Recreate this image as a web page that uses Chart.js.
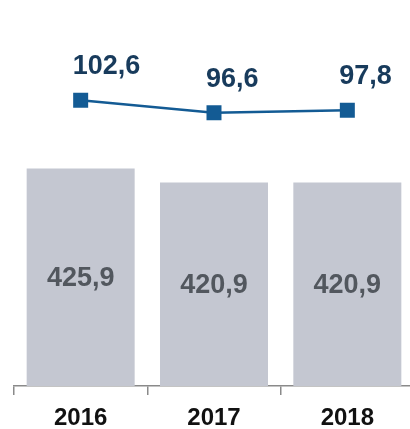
<!DOCTYPE html>
<html>
<meta charset="UTF-8">
<title>Chart</title>
<style type="text/css">
	html,
	body {
		margin: 0px;
		background: #ffffff;
		overflow: hidden;
	}

	.container {
		width: 420px;
		height: 429px;
		overflow: hidden;
	}
</style>
<script src="https://cdn.jsdelivr.net/npm/chart.js"></script>

<body>

	<div class="container"><canvas id="myCanvas" width="420" height="441"></canvas></div>

	<script>

		var years = ['2016', '2017', '2018'];
		var barValues = [425.9, 420.9, 420.9];
		var lineValues = [102.6, 96.6, 97.8];

		function fmt(v) {
			return v.toFixed(1).replace('.', ',');
		}

		// draws the numbers over the marks
		var valueLabels = {
			id: 'valueLabels',
			afterDatasetsDraw: function (chart) {
				var ctx = chart.ctx;
				var bottom = chart.chartArea.bottom;
				ctx.save();
				var barMeta = chart.getDatasetMeta(0);
				ctx.font = 'bold 27px "Liberation Sans"';
				ctx.fillStyle = '#52575e';
				ctx.textAlign = 'center';
				ctx.textBaseline = 'middle';
				barMeta.data.forEach(function (el, i) {
					ctx.fillText(fmt(barValues[i]), el.x, (el.y + bottom) / 2 + 1.5);
				});
				var lineMeta = chart.getDatasetMeta(1);
				ctx.font = 'bold 27px "Liberation Sans"';
				ctx.fillStyle = '#183b5c';
				ctx.textAlign = 'left';
				ctx.textBaseline = 'alphabetic';
				lineMeta.data.forEach(function (el, i) {
					ctx.fillText(fmt(lineValues[i]), el.x - 8, el.y - 26);
				});
				ctx.restore();
			}
		};

		var config = {
			type: 'bar',
			data: {
				labels: years,
				datasets: [
					{
						type: 'bar',
						data: barValues,
						backgroundColor: '#c4c7d1',
						categoryPercentage: 1,
						barPercentage: 0.81,
						yAxisID: 'y',
						order: 2
					},
					{
						type: 'line',
						data: lineValues,
						borderColor: '#135b94',
						borderWidth: 2.5,
						pointStyle: 'rect',
						pointRadius: 10.6,
						pointBorderWidth: 0,
						pointBackgroundColor: '#135b94',
						yAxisID: 'y1',
						order: 1
					}
				]
			},
			options: {
				responsive: false,
				animation: false,
				layout: {
					autoPadding: false,
					padding: { left: 14, right: 6, top: 0, bottom: 0 }
				},
				plugins: {
					legend: { display: false },
					tooltip: { enabled: false }
				},
				scales: {
					x: {
						grid: {
							drawOnChartArea: false,
							drawTicks: true,
							tickLength: 9,
							color: '#8a8a8a',
							lineWidth: 1.5
						},
						border: { display: true, color: '#8a8a8a', width: 1.5 },
						ticks: {
							color: '#111111',
							padding: 11,
							font: { family: '"Liberation Sans"', size: 24, weight: 'bold', lineHeight: 1 }
						}
					},
					y: {
						display: false,
						min: 348.4,
						max: 486
					},
					y1: {
						display: false,
						min: -34.6,
						max: 150.7
					}
				}
			},
			plugins: [valueLabels]
		};

		var myChart = new Chart(document.getElementById('myCanvas'), config);

	</script>
</body>

</html>
